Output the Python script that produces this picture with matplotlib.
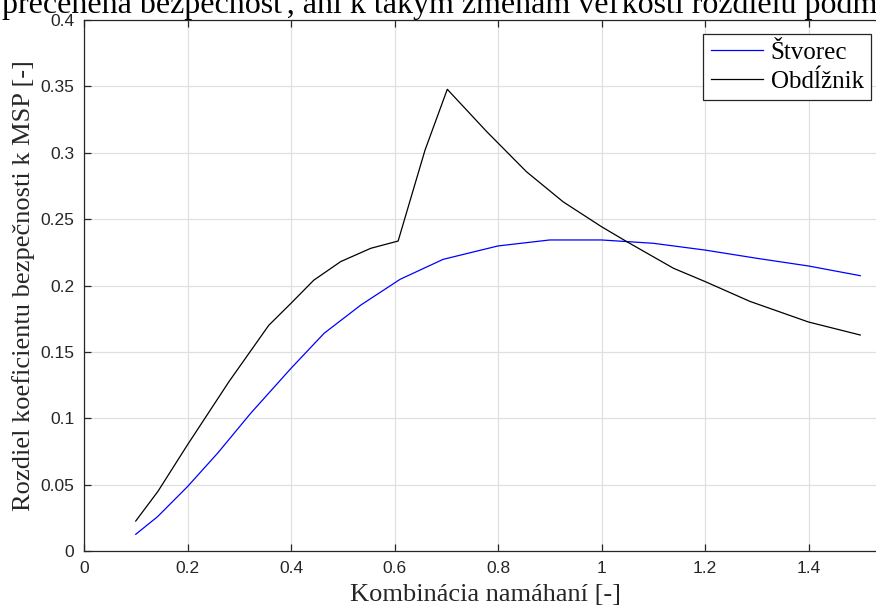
import matplotlib
matplotlib.use("Agg")
import matplotlib.pyplot as plt
import numpy as np

# Štvorec (square section)
x_stvorec = [0.10, 0.142, 0.20, 0.258, 0.322, 0.40, 0.464, 0.535, 0.611, 0.694,
             0.80, 0.90, 1.00, 1.10, 1.20, 1.30, 1.40, 1.50]
y_stvorec = [0.0126, 0.0258, 0.0485, 0.0736, 0.1037, 0.1376, 0.164, 0.1853, 0.2047, 0.2197,
             0.2298, 0.2343, 0.2343, 0.2318, 0.2267, 0.2205, 0.2147, 0.2074]

# Obdĺžnik (rectangular section)
x_obdlznik = [0.10, 0.143, 0.20, 0.28, 0.357, 0.40, 0.444, 0.496, 0.554, 0.607,
              0.659, 0.702, 0.778, 0.855, 0.926, 1.00, 1.049, 1.139, 1.20, 1.287,
              1.40, 1.50]
y_obdlznik = [0.0226, 0.045, 0.080, 0.1275, 0.170, 0.1866, 0.204, 0.218, 0.228, 0.2335,
              0.302, 0.3478, 0.316, 0.2857, 0.263, 0.2443, 0.233, 0.213, 0.203, 0.188,
              0.1725, 0.1627]

x_ticks = [0, 0.2, 0.4, 0.6, 0.8, 1, 1.2, 1.4]
x_tick_labels = ["0", "0.2", "0.4", "0.6", "0.8", "1", "1.2", "1.4"]
y_ticks = [0, 0.05, 0.1, 0.15, 0.2, 0.25, 0.3, 0.35, 0.4]
y_tick_labels = ["0", "0.05", "0.1", "0.15", "0.2", "0.25", "0.3", "0.35", "0.4"]

W, H = 876, 612
fig = plt.figure(figsize=(W / 100, H / 100), dpi=100)

# axes run past the right edge of the page crop
left, right_px, top_px, bottom_px = 84, 912, 20, 551
ax = fig.add_axes([left / W, 1 - bottom_px / H, (right_px - left) / W, (bottom_px - top_px) / H])

ax.plot(x_stvorec, y_stvorec, color=(0, 0, 1), lw=0.9, label="Štvorec")
ax.plot(x_obdlznik, y_obdlznik, color="black", lw=0.9, label="Obdĺžnik")

ax.set_xlim(0, 1.6)
ax.set_ylim(0, 0.4)
ax.set_xticks(x_ticks)
ax.set_xticklabels(x_tick_labels)
ax.set_yticks(y_ticks)
ax.set_yticklabels(y_tick_labels)

axis_col = "#262626"
for s in ax.spines.values():
    s.set_color(axis_col)
    s.set_linewidth(0.9)
ax.tick_params(direction="in", length=5, width=0.9, color=axis_col, top=True, right=True,
               labelsize=12.5, labelcolor=axis_col, pad=7)
for lbl in ax.get_xticklabels() + ax.get_yticklabels():
    lbl.set_family("Liberation Sans")

ax.grid(True, color="#e0e0e0", lw=0.9)
ax.set_axisbelow(True)

serif = "Liberation Serif"
ax.set_xlabel("Kombinácia namáhaní [-]", family=serif, fontsize=19, color=axis_col)
ax.xaxis.set_label_coords(0.485, -0.062, transform=ax.transAxes)
ax.xaxis.label.set_va("top")
ax.set_ylabel("Rozdiel koeficientu bezpečnosti k MSP [-]", family=serif, fontsize=19,
              color=axis_col, labelpad=4)

leg = ax.legend(loc="upper right", bbox_to_anchor=(871 / W, 1 - 34 / H),
                bbox_transform=fig.transFigure, borderaxespad=0, frameon=True,
                fancybox=False, framealpha=1, handlelength=2.1, handletextpad=0.3,
                borderpad=0.3, labelspacing=0.25, prop={"family": serif, "size": 18})
leg.get_frame().set_edgecolor(axis_col)
leg.get_frame().set_linewidth(0.9)

# text line from the page above, cut off by the crop
fig.text(0.002, 1 - 13.5 / H, "precenená bezpečnosť, ani k takým zmenám veľkosti rozdielu podm",
         family=serif, fontsize=23, va="baseline", ha="left")

fig.savefig("out.png", dpi=100)
